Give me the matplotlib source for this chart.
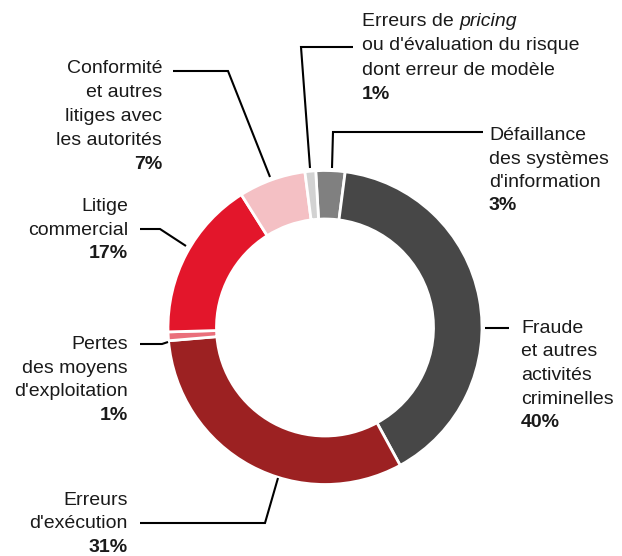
import matplotlib
matplotlib.use("Agg")
import matplotlib.pyplot as plt

# ---- data (clockwise from top) ----
categories = [
    "Défaillance des systèmes d'information",
    "Fraude et autres activités criminelles",
    "Erreurs d'exécution",
    "Pertes des moyens d'exploitation",
    "Litige commercial",
    "Conformité et autres litiges avec les autorités",
    "Erreurs de pricing ou d'évaluation du risque dont erreur de modèle",
]
values = [3.0, 40.0, 31.6, 0.9, 16.5, 6.9, 1.1]
pct_labels = ["3%", "40%", "31%", "1%", "17%", "7%", "1%"]
colors = ["#808080", "#474747", "#9c2122", "#ea6f7b", "#e3162b", "#f4c0c4", "#d2d2d2"]

W, H = 622, 556
fig = plt.figure(figsize=(W / 100, H / 100), dpi=100)
ax = fig.add_axes([0, 0, 1, 1])

cx, cy, R, ring = 325, H - 327.5, 157, 48.5
ax.pie(values, colors=colors, startangle=93.4, counterclock=False,
       radius=R, center=(cx, cy),
       wedgeprops=dict(width=ring, edgecolor="white", linewidth=2))
ax.set_xlim(0, W)
ax.set_ylim(0, H)
ax.set_aspect("equal")
ax.axis("off")

FONT = "Liberation Sans"
FS = 14


def label(lines, pct, x, y0, step, ha):
    y = y0
    for ln in lines:
        if isinstance(ln, list):
            # segments with styles
            ax.text(x, H - y, "", ha=ha)
        else:
            ax.text(x, H - y, ln, ha=ha, va="baseline", fontsize=FS,
                    family=FONT, color="#1a1a1a")
        y += step
    ax.text(x, H - y, pct, ha=ha, va="baseline", fontsize=FS,
            family=FONT, fontweight="bold", color="#1a1a1a")


def leader(pts):
    xs = [p[0] for p in pts]
    ys = [H - p[1] for p in pts]
    ax.plot(xs, ys, color="black", lw=1.5, solid_capstyle="butt",
            solid_joinstyle="miter")


# Pricing label (with italic word)
t1 = ax.text(362, H - 26, "Erreurs de ", ha="left", va="baseline",
             fontsize=FS, family=FONT, color="#1a1a1a")
fig.canvas.draw()
bb = t1.get_window_extent(renderer=fig.canvas.get_renderer())
ax.text(bb.x1, H - 26, "pricing", ha="left", va="baseline", fontsize=FS,
        family=FONT, style="italic", color="#1a1a1a")
label(["ou d'évaluation du risque", "dont erreur de modèle"], pct_labels[6],
      362, 26 + 24.3, 24.3, "left")
leader([(353, 47), (301, 47), (310, 168)])

# Défaillance
label(["Défaillance", "des systèmes", "d'information"], pct_labels[0],
      489, 140, 23.5, "left")
leader([(483, 132), (333, 132), (332, 168)])

# Fraude
label(["Fraude", "et autres", "activités", "criminelles"], pct_labels[1],
      521, 333, 23.5, "left")
leader([(485, 328), (509, 328)])

# Erreurs d'exécution
label(["Erreurs", "d'exécution"], pct_labels[2], 128, 505, 23.5, "right")
leader([(140, 523), (265, 523), (278, 478)])

# Pertes
label(["Pertes", "des moyens", "d'exploitation"], pct_labels[3],
      128, 349, 23.7, "right")
leader([(140, 344), (162, 344), (168, 342)])

# Litige commercial
label(["Litige", "commercial"], pct_labels[4], 128, 211, 23.7, "right")
leader([(140, 229), (160, 229), (186, 246)])

# Conformité
label(["Conformité", "et autres", "litiges avec", "les autorités"], pct_labels[5],
      162, 73, 24, "right")
leader([(173, 71), (228, 71), (270, 177)])

fig.savefig("out.png", dpi=100)
